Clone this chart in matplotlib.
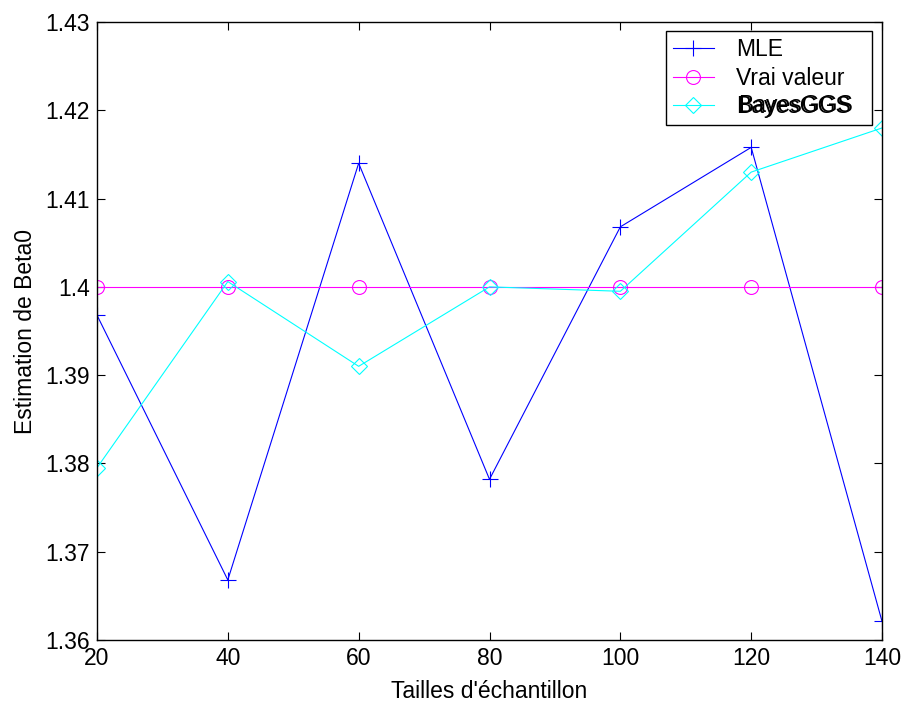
import numpy as np
import matplotlib
matplotlib.use('Agg')
import matplotlib.pyplot as plt
from matplotlib.ticker import FuncFormatter

plt.rcParams['font.family'] = ['Liberation Sans', 'DejaVu Sans']

tailles = [20, 40, 60, 80, 100, 120, 140]
mle = [1.3968, 1.3668, 1.4140, 1.3782, 1.4068, 1.4158, 1.3621]
vrai = [1.4, 1.4, 1.4, 1.4, 1.4, 1.4, 1.4]
bayes = [1.3795, 1.4006, 1.3910, 1.4000, 1.3995, 1.4130, 1.4180]

fs = 16.5

fig = plt.figure(figsize=(9.08, 7.06), dpi=100)
ax = fig.add_axes([0.1068, 0.0935, 0.8646, 0.8753])

ax.plot(tailles, mle, color='blue', marker='+', markersize=12, markeredgewidth=0.8,
        linewidth=0.8, label='MLE')
ax.plot(tailles, vrai, color='magenta', marker='o', markersize=10, markerfacecolor='none',
        markeredgewidth=0.8, linewidth=0.8, label='Vrai valeur')
ax.plot(tailles, bayes, color='cyan', marker='D', markersize=8.5, markerfacecolor='none',
        markeredgewidth=0.8, linewidth=0.8, label='BayesGGS')

ax.set_xlim(20, 140)
ax.set_ylim(1.36, 1.43)
ax.set_xticks(tailles)
ax.set_yticks(np.arange(1.36, 1.4301, 0.01))
ax.yaxis.set_major_formatter(FuncFormatter(lambda v, p: '%g' % round(v, 2)))

ax.tick_params(direction='in', top=True, right=True, length=6, width=0.8,
               labelsize=fs, pad=5)
for s in ax.spines.values():
    s.set_linewidth(1.0)

ax.set_xlabel("Tailles d'échantillon", fontsize=fs, labelpad=7)
ax.set_ylabel('Estimation de Beta0', fontsize=fs, labelpad=6)

leg = ax.legend(loc='upper left', bbox_to_anchor=(0.7248, 0.9, 0.2625, 0.0854),
                mode='expand', fontsize=fs, fancybox=False, framealpha=1,
                edgecolor='black', borderaxespad=0, handlelength=1.8,
                handletextpad=0.95, labelspacing=0.25, borderpad=0.3)
leg.get_frame().set_linewidth(1.0)

# the reference shows the last legend entry drawn twice, slightly shifted
fig.canvas.draw()
t = leg.get_texts()[2]
bb = t.get_window_extent()
fig.text(bb.x0 + 2, bb.y0 + 1, t.get_text(), fontsize=fs, ha='left', va='bottom',
         transform=None, zorder=10)

fig.savefig('out.png', dpi=100)
